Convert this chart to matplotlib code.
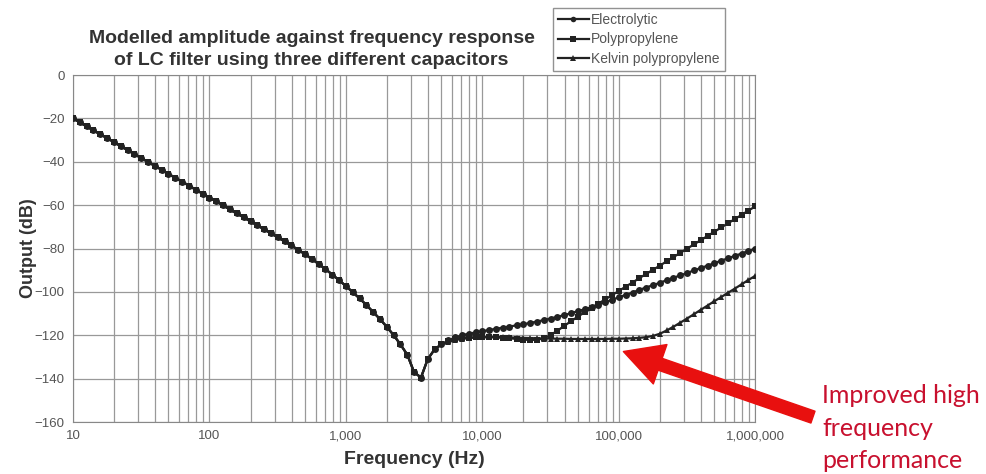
import matplotlib
matplotlib.use("Agg")
import matplotlib.pyplot as plt
from matplotlib.ticker import FixedLocator, LogLocator, NullFormatter

plt.rcParams['font.family'] = ['Liberation Sans', 'DejaVu Sans']

# sampling grid: 20 points per decade, 10 Hz .. 1 MHz
mantissa = [1.00, 1.12, 1.26, 1.41, 1.58, 1.78, 2.00, 2.24, 2.51, 2.82,
            3.16, 3.55, 3.98, 4.47, 5.01, 5.62, 6.31, 7.08, 7.94, 8.91]
freq_hz = [m * 10 ** d for d in range(1, 6) for m in mantissa] + [1e6]

# 10 Hz .. ~5 kHz, identical for all three capacitors
low_db = [-20.0, -21.8, -23.7, -25.5, -27.3, -29.1, -31.0, -32.8, -34.6, -36.4,
          -38.3, -40.1, -41.9, -43.7, -45.6, -47.4, -49.2, -51.0, -52.9, -54.7,
          -56.5, -58.3, -60.1, -62.0, -63.8, -65.6, -67.5, -69.3, -71.1, -73.0,
          -74.8, -76.7, -78.6, -80.6, -82.6, -84.8, -87.1, -89.5, -92.0, -94.6,
          -97.3, -100.1, -103.0, -106.0, -109.2, -112.6, -116.2, -120.0, -124.2, -129.0,
          -137.0, -139.5, -131.0, -126.5, -124.2]

electrolytic_tail = [-122.4, -121.0, -120.0, -119.3, -118.7, -118.1, -117.6, -117.0, -116.5, -116.0,
                     -115.4, -114.9, -114.3, -113.7, -113.0, -112.3, -111.5, -110.7, -109.8, -108.9,
                     -108.0, -107.0, -105.9, -104.8, -103.6, -102.5, -101.4, -100.3, -99.1, -98.0,
                     -96.9, -95.8, -94.6, -93.5, -92.4, -91.3, -90.1, -89.0, -87.9, -86.8,
                     -85.6, -84.5, -83.4, -82.3, -81.1, -80.0]
polypropylene_tail = [-122.8, -121.9, -121.4, -121.1, -121.0, -120.9, -120.9, -121.0, -121.2, -121.4,
                      -121.7, -122.0, -122.2, -122.1, -121.4, -119.9, -117.9, -115.7, -113.5, -111.4,
                      -109.4, -107.4, -105.4, -103.5, -101.5, -99.6, -97.6, -95.7, -93.7, -91.8,
                      -89.8, -87.9, -85.9, -84.0, -82.0, -80.1, -78.1, -76.2, -74.2, -72.3,
                      -70.3, -68.4, -66.4, -64.5, -62.5, -60.6]
kelvin_tail = [-123.0, -122.2, -121.7, -121.3, -121.0, -120.9, -120.8, -120.8, -120.9, -121.0,
               -121.1, -121.2, -121.3, -121.4, -121.5, -121.5, -121.6, -121.6, -121.7, -121.7,
               -121.7, -121.7, -121.7, -121.7, -121.6, -121.6, -121.5, -121.4, -121.2, -120.9,
               -120.3, -119.3, -117.8, -116.1, -114.2, -112.3, -110.3, -108.3, -106.3, -104.3,
               -102.4, -100.4, -98.5, -96.5, -94.5, -92.6]

electrolytic_db = low_db + electrolytic_tail
polypropylene_db = low_db + polypropylene_tail
kelvin_db = low_db + kelvin_tail

series = [("Electrolytic", electrolytic_db, "o"),
          ("Polypropylene", polypropylene_db, "s"),
          ("Kelvin polypropylene", kelvin_db, "^")]

x_ticks = [10, 100, 1000, 10000, 100000, 1000000]
x_tick_labels = ["10", "100", "1,000", "10,000", "100,000", "1,000,000"]
y_ticks = [0, -20, -40, -60, -80, -100, -120, -140, -160]

fig = plt.figure(figsize=(9.86, 4.74), dpi=100)
ax = fig.add_axes([0.074, 0.1097, 0.692, 0.732])

for name, values, mk in series:
    ax.plot(freq_hz, values, color="#222222", lw=1.6, marker=mk, ms=5,
            mew=0, label=name, zorder=3)

ax.set_xscale("log")
ax.set_xlim(10, 1e6)
ax.set_ylim(-160, 0)
ax.xaxis.set_major_locator(FixedLocator(x_ticks))
ax.set_xticklabels(x_tick_labels)
ax.xaxis.set_minor_locator(LogLocator(base=10, subs=range(2, 10)))
ax.xaxis.set_minor_formatter(NullFormatter())
ax.set_yticks(y_ticks)

ax.grid(True, which="both", axis="x", color="#999999", lw=0.9)
ax.grid(True, which="major", axis="y", color="#999999", lw=0.9)
ax.tick_params(which="both", length=0, labelsize=9.5, colors="#555555", pad=6)
for sp in ax.spines.values():
    sp.set_color("#888888")

ax.set_xlabel("Frequency (Hz)", fontsize=14, fontweight="bold", color="#333333", labelpad=6)
ax.set_ylabel("Output (dB)", fontsize=13, fontweight="bold", color="#333333")
ax.yaxis.set_label_coords(-0.053, 0.5)

fig.text(0.316, 0.896, "Modelled amplitude against frequency response\nof LC filter using three different capacitors",
         ha="center", va="center", fontsize=14, fontweight="bold", color="#333333", linespacing=1.4)

leg = fig.legend(loc="upper left", bbox_to_anchor=(0.561, 0.983), fontsize=10,
                 frameon=True, fancybox=False, edgecolor="#777777", handlelength=2.2,
                 handletextpad=0.2, labelspacing=0.4, borderpad=0.35, borderaxespad=0,
                 markerscale=0.8)
for t in leg.get_texts():
    t.set_color("#555555")

# red call-out
ax.annotate("", xy=(1.08e5, -127.5), xycoords="data",
            xytext=(0.8245, 0.12), textcoords="figure fraction",
            arrowprops=dict(arrowstyle="simple,head_length=1.4,head_width=1.5,tail_width=0.45",
                            color="#e8100f", mutation_scale=20, shrinkA=0, shrinkB=0),
            annotation_clip=False, zorder=5)
fig.text(0.834, 0.097, "Improved high\nfrequency\nperformance", ha="left", va="center",
         fontsize=18, color="#c8102e", family=["Lato", "DejaVu Sans"], linespacing=1.5)

fig.savefig("out.png", dpi=100)
